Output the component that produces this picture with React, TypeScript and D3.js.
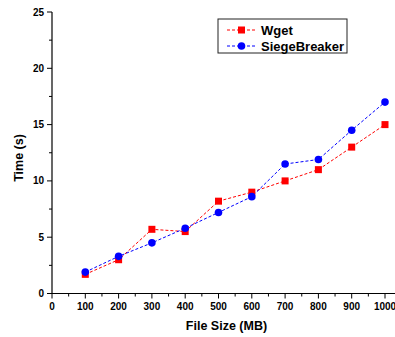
import React from "react";
import * as d3 from "d3";

const fileSizes = [100, 200, 300, 400, 500, 600, 700, 800, 900, 1000];
const wget = [1.7, 3.0, 5.7, 5.5, 8.2, 9.0, 10.0, 11.0, 13.0, 15.0];
const siege = [1.9, 3.3, 4.5, 5.8, 7.2, 8.6, 11.5, 11.9, 14.5, 17.0];
const xTicks = [0, 100, 200, 300, 400, 500, 600, 700, 800, 900, 1000];
const xMinor = [50, 150, 250, 350, 450, 550, 650, 750, 850, 950];
const yTicks = [0, 5, 10, 15, 20, 25];
const yMinor = [2.5, 7.5, 12.5, 17.5, 22.5];

export default function App() {
  const W = 395, H = 337;
  const x = d3.scaleLinear().domain([0, 1000]).range([52, 385]);
  const y = d3.scaleLinear().domain([0, 25]).range([293.5, 12]);
  const font = "Liberation Sans, Arial, sans-serif";
  const line = d3.line<number>().x((_, i) => x(fileSizes[i])).y((d) => y(d));
  const red = "#ff0000", blue = "#0000ff";
  return (
    <div style={{ position: "absolute", left: 0, top: 0 }}>
      <svg width={W} height={H} style={{ display: "block", background: "#fff" }} fontFamily={font}>
        {/* axes */}
        <line x1={52} x2={395} y1={y(0)} y2={y(0)} stroke="#000" strokeWidth={1.2} />
        <line x1={52} x2={52} y1={y(25)} y2={y(0)} stroke="#000" strokeWidth={1.2} />
        {xTicks.map((t) => (
          <g key={"xt" + t}>
            <line x1={x(t)} x2={x(t)} y1={y(0)} y2={y(0) + 5} stroke="#000" />
            <text x={x(t)} y={310} textAnchor="middle" fontSize={10} fontWeight="bold">{t}</text>
          </g>
        ))}
        {xMinor.map((t) => (
          <line key={"xm" + t} x1={x(t)} x2={x(t)} y1={y(0)} y2={y(0) + 3} stroke="#000" />
        ))}
        {yTicks.map((t) => (
          <g key={"yt" + t}>
            <line x1={47} x2={52} y1={y(t)} y2={y(t)} stroke="#000" />
            <text x={44} y={y(t) + 3.5} textAnchor="end" fontSize={10} fontWeight="bold">{t}</text>
          </g>
        ))}
        {yMinor.map((t) => (
          <line key={"ym" + t} x1={49} x2={52} y1={y(t)} y2={y(t)} stroke="#000" />
        ))}
        <text x={226.5} y={330} textAnchor="middle" fontSize={12.5} fontWeight="bold">File Size (MB)</text>
        <text transform="translate(23,158) rotate(-90)" textAnchor="middle" fontSize={12.5} fontWeight="bold">Time (s)</text>
        {/* series */}
        <path d={line(wget) || ""} fill="none" stroke={red} strokeWidth={1} strokeDasharray="3,2" />
        <path d={line(siege) || ""} fill="none" stroke={blue} strokeWidth={1} strokeDasharray="3,2" />
        {wget.map((v, i) => (
          <rect key={"w" + i} x={x(fileSizes[i]) - 3.5} y={y(v) - 3.5} width={7} height={7} fill={red} />
        ))}
        {siege.map((v, i) => (
          <circle key={"s" + i} cx={x(fileSizes[i])} cy={y(v)} r={3.8} fill={blue} />
        ))}
        {/* legend */}
        <rect x={218} y={19} width={129} height={34} fill="#fff" stroke="#222" strokeWidth={1} />
        <line x1={227} x2={255} y1={30} y2={30} stroke={red} strokeDasharray="3,2" />
        <rect x={241.5 - 3.5} y={26.5} width={7} height={7} fill={red} />
        <text x={261} y={34.5} fontSize={13} fontWeight="bold">Wget</text>
        <line x1={227} x2={255} y1={46} y2={46} stroke={blue} strokeDasharray="3,2" />
        <circle cx={241.5} cy={46} r={3.8} fill={blue} />
        <text x={261} y={50.5} fontSize={13} fontWeight="bold">SiegeBreaker</text>
      </svg>
    </div>
  );
}
